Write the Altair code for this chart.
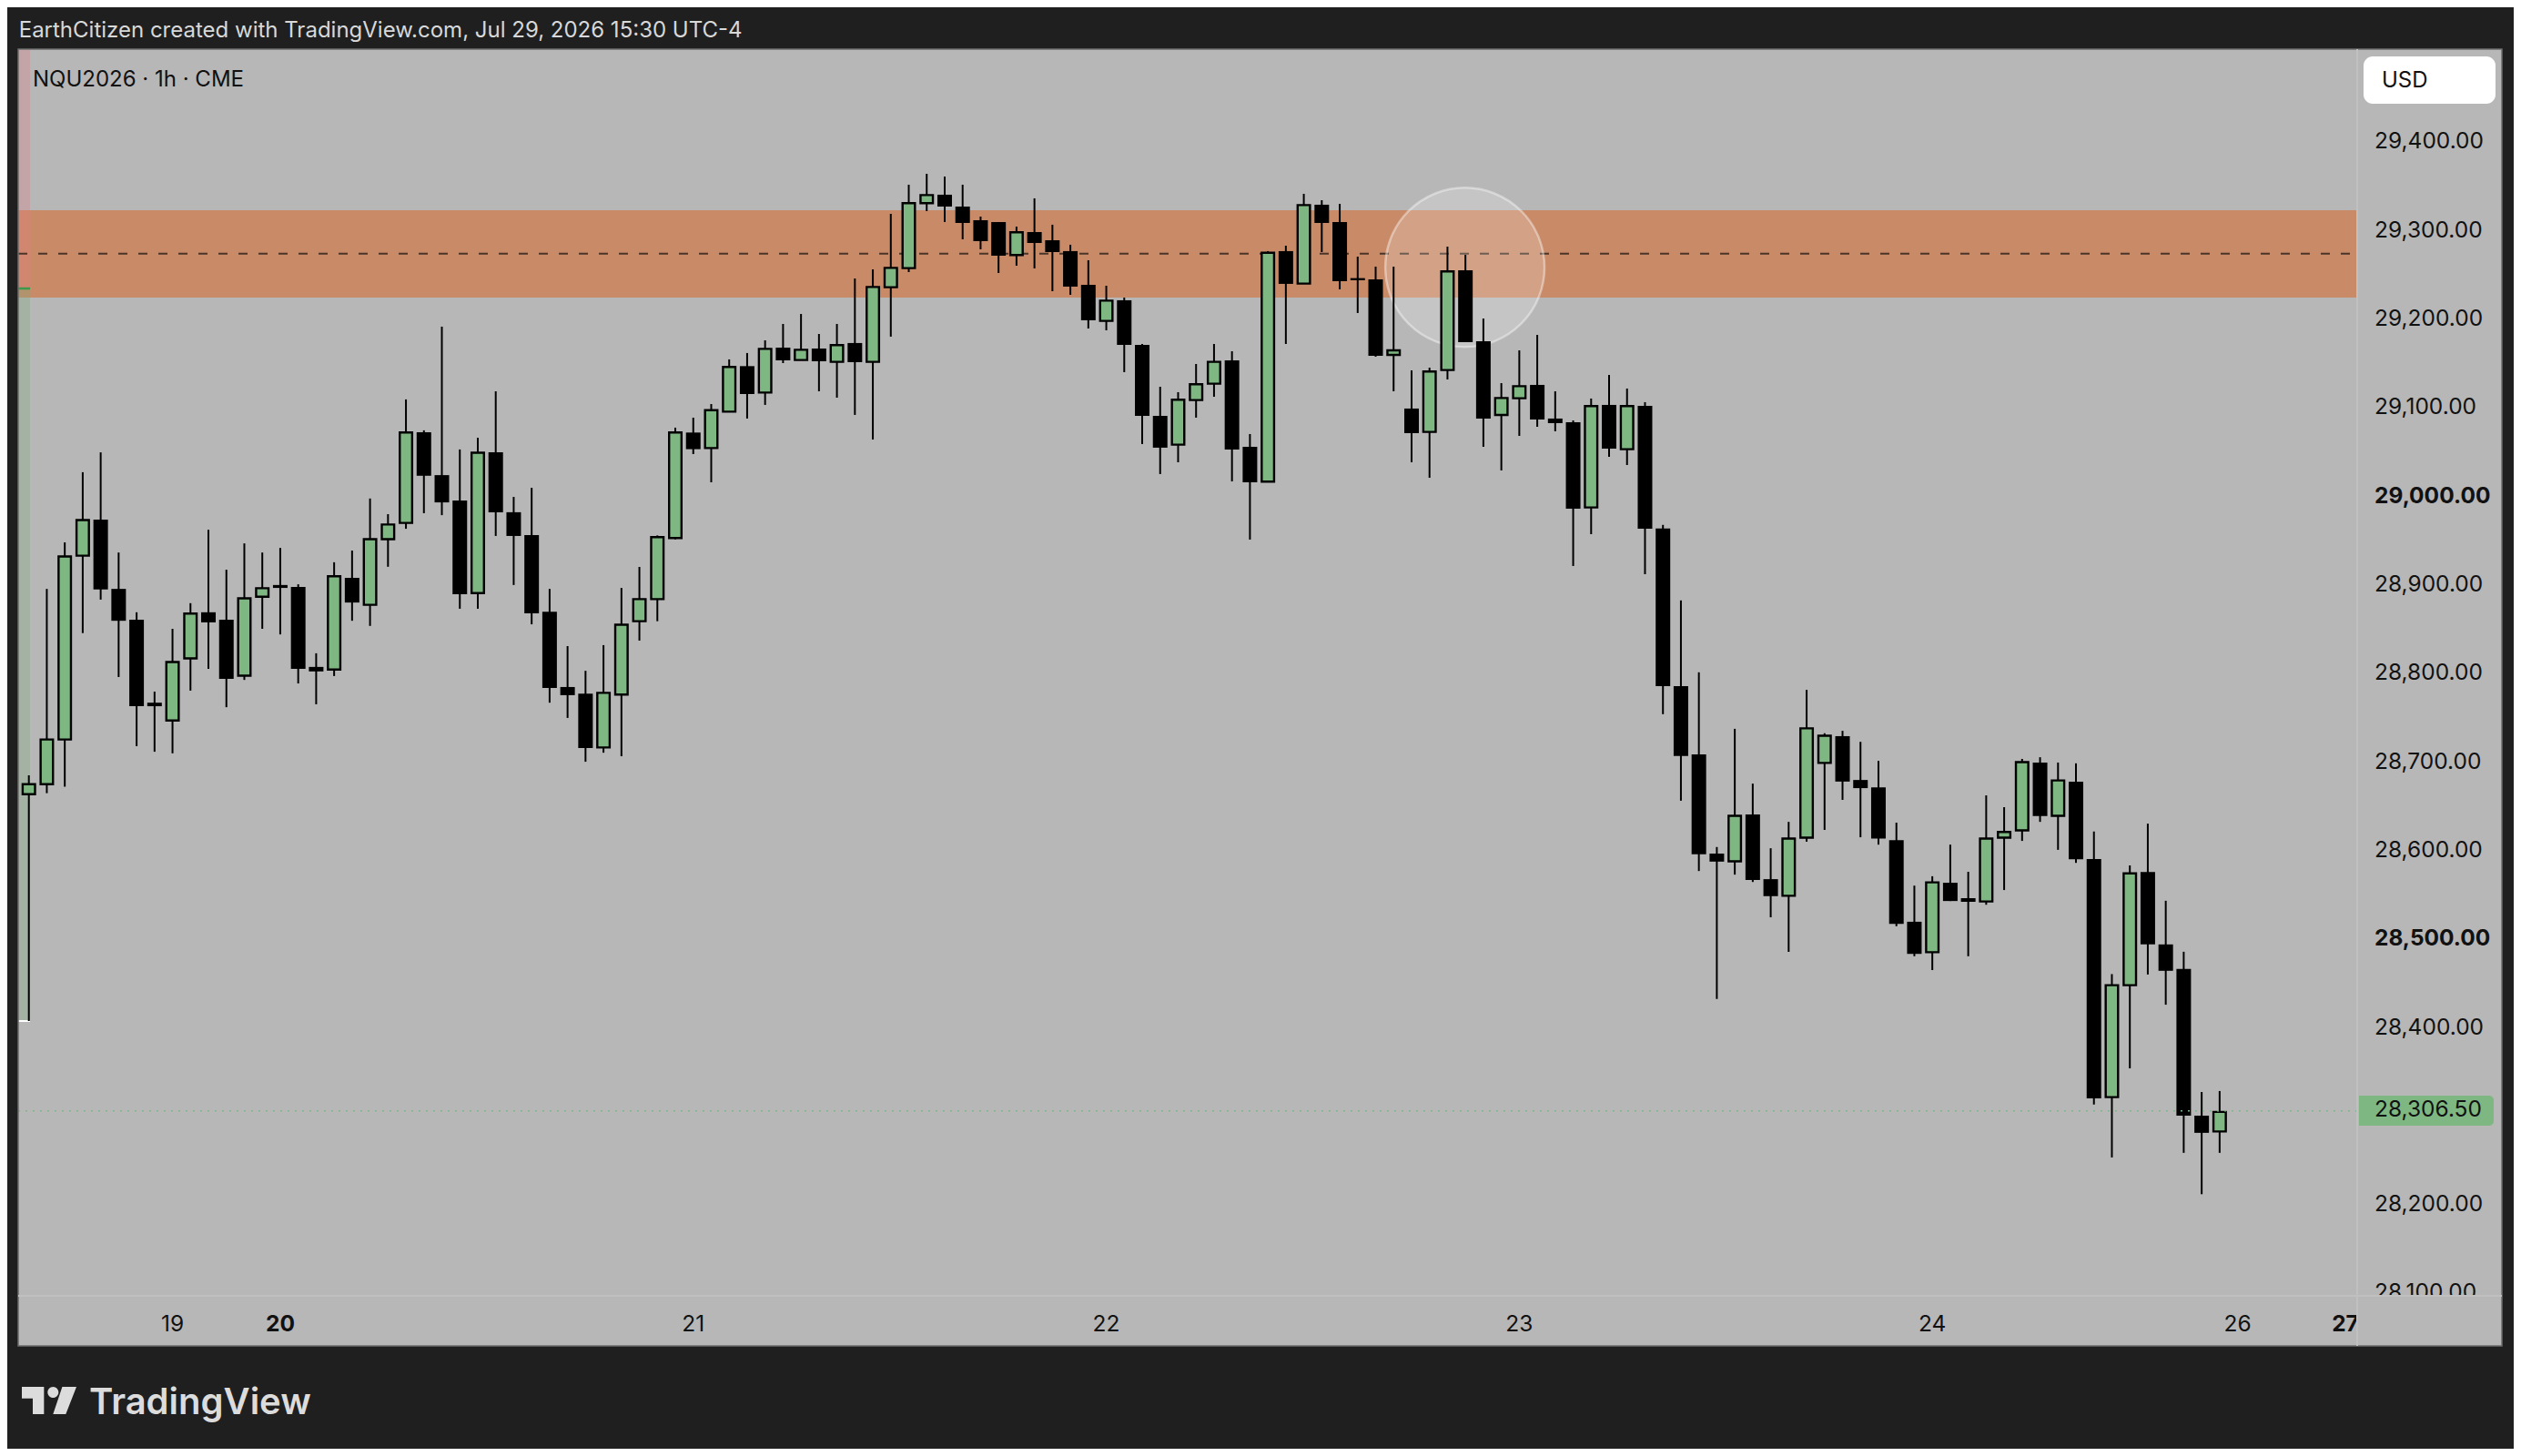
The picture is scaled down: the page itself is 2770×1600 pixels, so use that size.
import altair as alt
import pandas as pd

# NQU2026 1h candles
opens = [28662.4, 28673.7, 28724.1, 28931.7, 28972.4, 28894.2, 28859.3, 28765.7, 28745.6, 28815.7,
         28867.8, 28859.3, 28796.2, 28885.4, 28898.6, 28896.4, 28806.1, 28803.2, 28906.7, 28876.2,
         28950.4, 28968.7, 29071.1, 29022.7, 28994.1, 28889.4, 29048.4, 28980.8, 28955.1, 28868.5,
         28783.4, 28776.0, 28715.1, 28774.9, 28857.7, 28882.7, 28951.6, 29070.8, 29053.3, 29094.4,
         29145.8, 29116.0, 29166.7, 29152.7, 29165.7, 29150.6, 29171.9, 29150.6, 29234.9, 29256.5,
         29329.8, 29339.4, 29326.0, 29310.6, 29308.5, 29271.2, 29297.2, 29288.0, 29275.7, 29237.6,
         29196.9, 29220.2, 29169.8, 29089.6, 29057.1, 29107.5, 29126.0, 29152.3, 29054.7, 29015.3,
         29275.7, 29239.0, 29328.1, 29308.5, 29245.2, 29243.8, 29158.5, 29097.9, 29071.5, 29141.4,
         29254.1, 29173.9, 29090.7, 29109.5, 29124.6, 29086.6, 29082.4, 28986.2, 29102.0, 29052.0,
         29100.9, 28962.4, 28784.4, 28707.3, 28595.3, 28586.6, 28639.4, 28566.4, 28547.6, 28613.2,
         28697.7, 28727.9, 28678.4, 28670.1, 28610.5, 28518.3, 28483.9, 28562.3, 28544.9, 28541.2,
         28613.2, 28621.5, 28698.1, 28638.0, 28676.6, 28589.2, 28320.2, 28446.6, 28574.5, 28492.7,
         28465.0, 28299.3, 28281.4]
closes = [28673.7, 28724.1, 28930.9, 28972.0, 28893.5, 28858.2, 28761.7, 28761.7, 28811.6, 28866.3,
          28856.4, 28792.5, 28883.6, 28895.0, 28895.3, 28803.9, 28801.0, 28908.5, 28878.8, 28950.4,
          28966.9, 29070.8, 29022.0, 28991.9, 28888.3, 29048.0, 28980.8, 28954.0, 28866.7, 28782.3,
          28774.2, 28714.4, 28776.8, 28853.8, 28882.7, 28952.6, 29070.8, 29052.0, 29096.1, 29144.8,
          29114.3, 29165.3, 29152.3, 29164.3, 29151.3, 29169.5, 29150.3, 29235.2, 29256.8, 29329.8,
          29339.0, 29326.0, 29307.5, 29287.0, 29270.5, 29296.9, 29284.9, 29274.6, 29235.6, 29197.6,
          29219.8, 29169.8, 29089.6, 29053.7, 29107.8, 29125.3, 29150.6, 29051.6, 29014.6, 29273.9,
          29238.7, 29327.7, 29307.5, 29241.7, 29242.8, 29157.5, 29163.6, 29070.1, 29139.7, 29252.7,
          29172.9, 29086.6, 29109.8, 29123.2, 29085.5, 29081.4, 28984.8, 29100.6, 29052.6, 29100.6,
          28962.2, 28784.4, 28705.5, 28594.4, 28586.2, 28638.0, 28565.5, 28547.2, 28612.3, 28736.7,
          28728.4, 28676.6, 28669.2, 28612.3, 28516.0, 28482.0, 28562.8, 28541.7, 28540.8, 28612.3,
          28619.7, 28698.6, 28637.6, 28677.9, 28588.9, 28318.7, 28446.6, 28573.0, 28492.7, 28462.9,
          28299.3, 28279.9, 28303.5]
highs = [28683.7, 28894.2, 28946.7, 29026.0, 29048.4, 28935.3, 28867.8, 28778.2, 28849.1, 28878.1,
         28961.0, 28915.9, 28945.6, 28935.3, 28940.5, 28899.4, 28821.5, 28924.3, 28937.5, 28996.3,
         28978.6, 29108.2, 29073.3, 29190.4, 29051.7, 29064.9, 29117.4, 28998.1, 29008.4, 28894.2,
         28829.6, 28801.7, 28830.7, 28895.3, 28919.0, 28954.6, 29076.3, 29087.6, 29103.0, 29153.4,
         29160.6, 29174.9, 29193.4, 29204.7, 29182.1, 29193.4, 29244.8, 29255.1, 29317.8, 29350.7,
         29363.0, 29359.9, 29350.7, 29314.7, 29308.5, 29303.4, 29335.3, 29305.5, 29282.9, 29265.4,
         29236.6, 29223.2, 29170.8, 29122.5, 29116.4, 29148.2, 29170.8, 29162.6, 29069.1, 29275.7,
         29281.8, 29340.4, 29333.2, 29329.1, 29269.5, 29258.2, 29258.2, 29141.0, 29144.1, 29280.8,
         29271.5, 29199.6, 29126.6, 29163.6, 29181.1, 29117.4, 29084.5, 29109.2, 29135.9, 29120.5,
         29105.1, 28966.5, 28881.2, 28800.0, 28602.7, 28736.2, 28674.3, 28601.3, 28631.1, 28780.2,
         28731.2, 28733.9, 28721.5, 28700.0, 28630.2, 28559.1, 28569.7, 28605.4, 28574.7, 28661.0,
         28647.7, 28702.2, 28704.1, 28698.1, 28697.2, 28620.2, 28459.2, 28581.9, 28629.1, 28542.0,
         28484.4, 28326.0, 28327.1]
lows = [28406.2, 28663.5, 28670.7, 28844.3, 28882.1, 28794.7, 28716.6, 28710.3, 28708.5, 28779.3,
        28803.9, 28760.6, 28791.4, 28849.1, 28842.8, 28787.4, 28763.9, 28795.8, 28858.2, 28852.4,
        28919.2, 28962.1, 28979.7, 28977.5, 28871.8, 28871.8, 28954.0, 28898.6, 28854.2, 28765.7,
        28748.5, 28699.0, 28709.2, 28705.2, 28835.8, 28857.7, 28950.2, 29046.5, 29014.6, 29094.4,
        29086.6, 29102.0, 29149.2, 29152.7, 29117.4, 29110.2, 29090.7, 29062.9, 29179.1, 29252.0,
        29320.9, 29308.5, 29289.0, 29277.7, 29251.0, 29259.2, 29256.1, 29230.4, 29226.3, 29188.3,
        29186.2, 29139.0, 29057.8, 29023.9, 29037.2, 29087.6, 29111.2, 29015.6, 28949.9, 29015.3,
        29170.8, 29239.0, 29274.6, 29232.5, 29205.8, 29156.4, 29117.4, 29037.2, 29019.7, 29130.7,
        29172.9, 29054.7, 29028.0, 29067.0, 29077.3, 29072.2, 28920.1, 28956.0, 29043.4, 29034.1,
        28910.8, 28752.7, 28655.0, 28575.6, 28431.1, 28571.5, 28563.2, 28523.3, 28484.3, 28608.7,
        28622.0, 28655.9, 28613.7, 28605.4, 28513.2, 28479.3, 28463.7, 28541.7, 28479.3, 28537.5,
        28554.1, 28609.6, 28631.1, 28599.5, 28584.8, 28311.8, 28252.1, 28352.7, 28458.7, 28424.6,
        28257.3, 28210.6, 28257.3]

price_ticks = [29400, 29300, 29200, 29100, 29000, 28900, 28800, 28700, 28600, 28500, 28400, 28200, 28100]
price_labels = ['29,400.00', '29,300.00', '29,200.00', '29,100.00', '29,000.00', '28,900.00', '28,800.00',
                '28,700.00', '28,600.00', '28,500.00', '28,400.00', '28,200.00', '28,100.00']
bold_prices = [29000, 28500]
day_idx = [8, 14, 37, 60, 83, 106, 123, 129]
day_labels = ['19', '20', '21', '22', '23', '24', '26', '27']
bold_days = ['20', '27']

zone_top, zone_bottom, zone_mid = 29321.9, 29223.2, 29272.9
entry_price, stop_price = 29233.5, 28406.2
last_label = 28306.5
last_line = 28304.8
circle_i, circle_price = 79.97, 29257.3

GREEN = '#7fb783'
PANE = '#b7b7b7'
DARK = '#1f1f1f'
FONT = 'Inter'

df = pd.DataFrame({'i': range(len(opens)), 'open': opens, 'close': closes, 'high': highs, 'low': lows})
df['top'] = df[['open', 'close']].max(axis=1)
df['bottom'] = df[['open', 'close']].min(axis=1)
up = df[df['close'] >= df['open']]
down = df[df['close'] < df['open']]
one = pd.DataFrame({'a': [0]})

# padding=0 or vega-lite pads the x scale for the bars
xs = alt.Scale(domain=[-0.593, 129.66], nice=False, zero=False, padding=0)
ys = alt.Scale(domain=[28095.8, 29503.8], nice=False, zero=False, padding=0)
X = alt.X('i:Q', scale=xs, axis=None)
Y = alt.Y('p:Q', scale=ys, axis=None)


def box(x0, x1, y0, y1, color, **kw):
    return alt.Chart(one).mark_rect(color=color, **kw).encode(
        x=alt.value(x0), x2=alt.value(x1), y=alt.value(y0), y2=alt.value(y1))


def zone(top, bottom, x0, x1, color, **kw):
    d = pd.DataFrame({'top': [top], 'bottom': [bottom]})
    return alt.Chart(d).mark_rect(color=color, **kw).encode(
        x=alt.value(x0), x2=alt.value(x1),
        y=alt.Y('top:Q', scale=ys, axis=None), y2='bottom:Q')


def hline(price, x0, x1, color, **kw):
    d = pd.DataFrame({'p': [price]})
    return alt.Chart(d).mark_rule(color=color, **kw).encode(
        x=alt.value(x0), x2=alt.value(x1), y=Y)


def label(text, x, y, color='#111111', size=24, **kw):
    d = pd.DataFrame({'t': [text]})
    return alt.Chart(d).mark_text(color=color, fontSize=size, font=FONT, align='left', baseline='middle', **kw).encode(
        x=alt.value(x), y=alt.value(y), text='t:N')


panel = box(0, 2729, 0, 1425, PANE)
band = zone(zone_top, zone_bottom, 0, 2570, '#c98a67')
strip_red = zone(29503.8, entry_price, 0, 13, '#e47e85', opacity=0.3)
strip_green = zone(entry_price, stop_price, 0, 13, '#7baa7b', opacity=0.3)
entry_tick = hline(entry_price, 0, 13, '#3c9a4a', strokeWidth=2.5)
stop_tick = hline(stop_price, 0, 13, '#ffffff', strokeWidth=2)
mid_line = hline(zone_mid, 0, 2570, '#4a3528', strokeWidth=2, strokeDash=[10, 12])

circle_df = pd.DataFrame({'i': [circle_i], 'p': [circle_price]})
circle = alt.Chart(circle_df).mark_circle(size=30625, color='#ffffff', opacity=0.2).encode(x=X, y=Y)
circle_edge = alt.Chart(circle_df).mark_point(
    size=30625, shape='circle', filled=False, color='#ffffff', opacity=0.4, strokeWidth=2.5
).encode(x=X, y=Y)

wicks = alt.Chart(df).mark_rule(color='black', strokeWidth=2).encode(
    x=X, y=alt.Y('low:Q', scale=ys, axis=None), y2='high:Q')
bodies_down = alt.Chart(down).mark_bar(color='black', size=16).encode(
    x=X, y=alt.Y('bottom:Q', scale=ys, axis=None), y2='top:Q')
bodies_up = alt.Chart(up).mark_bar(color=GREEN, size=13.6, stroke='black', strokeWidth=2.4).encode(
    x=X, y=alt.Y('bottom:Q', scale=ys, axis=None), y2='top:Q')
last_dots = hline(last_line, 0, 2570, GREEN, strokeWidth=1.5, strokeDash=[2, 6])

# price scale and day labels, the last of each sits half under the corner box like in the screenshot
price_df = pd.DataFrame({'p': price_ticks, 't': price_labels})
price_df['bold'] = price_df['p'].isin(bold_prices)
price_text = alt.Chart(price_df[~price_df['bold']]).mark_text(
    color='#111111', fontSize=24.5, font=FONT, align='left', baseline='middle', dy=1.5
).encode(x=alt.value(2589), y=Y, text='t:N')
price_bold = alt.Chart(price_df[price_df['bold']]).mark_text(
    color='#111111', fontSize=24.5, font=FONT, fontWeight='bold', align='left', baseline='middle', dy=1.5
).encode(x=alt.value(2589), y=Y, text='t:N')

day_df = pd.DataFrame({'i': day_idx, 't': day_labels})
day_df['bold'] = day_df['t'].isin(bold_days)
day_text = alt.Chart(day_df[~day_df['bold']]).mark_text(
    color='#111111', fontSize=24.5, font=FONT, baseline='middle'
).encode(x=X, y=alt.value(1402), text='t:N')
day_bold = alt.Chart(day_df[day_df['bold']]).mark_text(
    color='#111111', fontSize=24.5, font=FONT, fontWeight='bold', baseline='middle'
).encode(x=X, y=alt.value(1402), text='t:N')
corner = box(2571, 2728, 1371, 1424, PANE)

price_tag = alt.Chart(one).mark_rect(color=GREEN, cornerRadiusTopRight=5, cornerRadiusBottomRight=5).encode(
    x=alt.value(2572), x2=alt.value(2720), y=alt.value(1150), y2=alt.value(1183))
last_text = alt.Chart(pd.DataFrame({'p': [last_label], 't': ['28,306.50']})).mark_text(
    color='#111111', fontSize=24.5, font=FONT, align='left', baseline='middle', dy=1.5
).encode(x=alt.value(2589), y=Y, text='t:N')

usd_box = alt.Chart(one).mark_rect(color='#ffffff', cornerRadius=10).encode(
    x=alt.value(2577), x2=alt.value(2722), y=alt.value(8), y2=alt.value(60))
usd_text = label('USD', 2597, 35)
symbol = label('NQU2026 · 1h · CME', 16, 34)
header = label('EarthCitizen created with TradingView.com, Jul 29, 2026 15:30 UTC-4', 0.7, -20, color='#d8d8d8')

frame = box(0, 2729, 0, 1425, '#000000', fillOpacity=0, stroke='#6e6e6e', strokeWidth=1.5)
div_v = alt.Chart(one).mark_rule(color='#c0c0c0', strokeWidth=2).encode(
    x=alt.value(2570), y=alt.value(0), y2=alt.value(1425))
div_h = alt.Chart(one).mark_rule(color='#c0c0c0', strokeWidth=2).encode(
    x=alt.value(0), x2=alt.value(2729), y=alt.value(1370))

logo_path = ('M-1,-0.5 L-0.189,-0.5 L-0.189,0.5 L-0.6,0.5 L-0.6,-0.078 L-1,-0.078 Z '
             'M-0.056,-0.3 A0.2,0.2 0 1 1 0.344,-0.3 A0.2,0.2 0 1 1 -0.056,-0.3 Z '
             'M0.48,-0.5 L1,-0.5 L0.61,0.5 L0.144,0.5 Z')
logo_mark = alt.Chart(one).mark_point(shape=logo_path, filled=True, color='#dcdcdc', size=3600, opacity=1).encode(
    x=alt.value(34), y=alt.value(1485))
logo_text = alt.Chart(pd.DataFrame({'t': ['TradingView']})).mark_text(
    color='#dcdcdc', fontSize=40, font=FONT, fontWeight=600, align='left', baseline='alphabetic'
).encode(x=alt.value(78), y=alt.value(1500), text='t:N')

chart = alt.layer(
    panel, band, strip_red, strip_green, entry_tick, stop_tick, mid_line, circle, circle_edge,
    wicks, bodies_down, bodies_up, last_dots,
    price_text, price_bold, day_text, day_bold, corner, price_tag, last_text,
    usd_box, usd_text, symbol, header, frame, div_v, div_h, logo_mark, logo_text
).properties(
    width=2570,
    height=1370,
    background=DARK,
    padding={'left': 12, 'top': 46, 'right': 172, 'bottom': 168},
    autosize=alt.AutoSizeParams(type='none')
).configure_view(stroke=None)

chart.save('out.html', embed_options={'renderer': 'svg', 'actions': False})
